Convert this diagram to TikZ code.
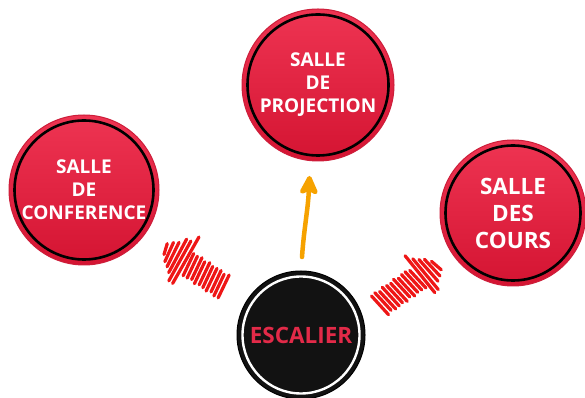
\documentclass[tikz,border=0pt]{standalone}
\usepackage{fontspec}
\setmainfont{Open Sans}
\usetikzlibrary{arrows.meta}
\definecolor{roomtop}{RGB}{238,52,82}
\definecolor{roombot}{RGB}{212,20,50}
\definecolor{roomedge}{RGB}{205,30,58}
\definecolor{scribred}{RGB}{238,22,22}
\definecolor{arroworange}{RGB}{246,162,0}
\definecolor{esctext}{RGB}{226,42,72}
\tikzset{
  room/.style={circle, minimum size=#1, inner sep=0pt, top color=roomtop, bottom color=roombot,
    draw=roomedge, line width=1pt, text=white, align=center},
  ringline/.style={black, line width=2.6pt},
  scrib/.style={scribred, line width=3.2pt, line cap=round, line join=round},
  orangearrow/.style={arroworange, line width=4.5pt, line cap=round,
    -{Stealth[length=23pt,width=22pt,inset=5pt,round]}},
}
\newcommand\scribblearrow[4]{%
  \begin{scope}[shift={(#1,#2)}, rotate=#3]
    \foreach \i in {0,...,15}{
      \pgfmathsetmacro\xx{2+\i*4.6}
      \pgfmathsetmacro\hh{ifthenelse(\xx<(#4-29),12,max(2,27*(#4-\xx)/29))}
      \pgfmathsetmacro\ha{\hh*(1+0.09*sin(\i*137))}
      \pgfmathsetmacro\hb{\hh*(1+0.09*cos(\i*211))}
      \draw[scrib] (\xx-1.6,\ha) -- (\xx+1.6,-\hb);
    }
  \end{scope}}
\begin{document}
\begin{tikzpicture}[x=1pt,y=1pt]
\fill[white] (0,0) rectangle (585,398);
\useasboundingbox (0,0) rectangle (585,398);

\node[room=150pt, font=\bfseries\fontsize{19}{23}\selectfont] (conf) at (84,208) {SALLE\\DE\\CONFERENCE};
\draw[ringline] (conf.center) circle[radius=69.5pt];

\node[room=152pt, font=\bfseries\fontsize{19}{23}\selectfont] (proj) at (318,313) {SALLE\\DE\\PROJECTION};
\draw[ringline] (proj.center) circle[radius=70.5pt];

\node[room=146pt, font=\bfseries\fontsize{22.5}{27}\selectfont] (cours) at (513,185) {SALLE\\DES\\COURS};
\draw[ringline] (cours.center) circle[radius=67.5pt];

\node[circle, minimum size=128pt, inner sep=0pt, fill=black!93, draw=black, line width=1pt,
  text=esctext, font=\bfseries\fontsize{22.5}{27}\selectfont] (esc) at (301,63) {ESCALIER};
\draw[white, line width=2.4pt] (esc.center) circle[radius=58.5pt];

% orange arrow
\coordinate (oa) at (302,141);
\coordinate (ob) at (309.5,222);
\draw[orangearrow] (oa) .. controls (304,170) and (308,188) .. (ob);

% scribbled arrows
\scribblearrow{225}{110}{147}{77}
\scribblearrow{378}{92}{35}{78}
\end{tikzpicture}
\end{document}
